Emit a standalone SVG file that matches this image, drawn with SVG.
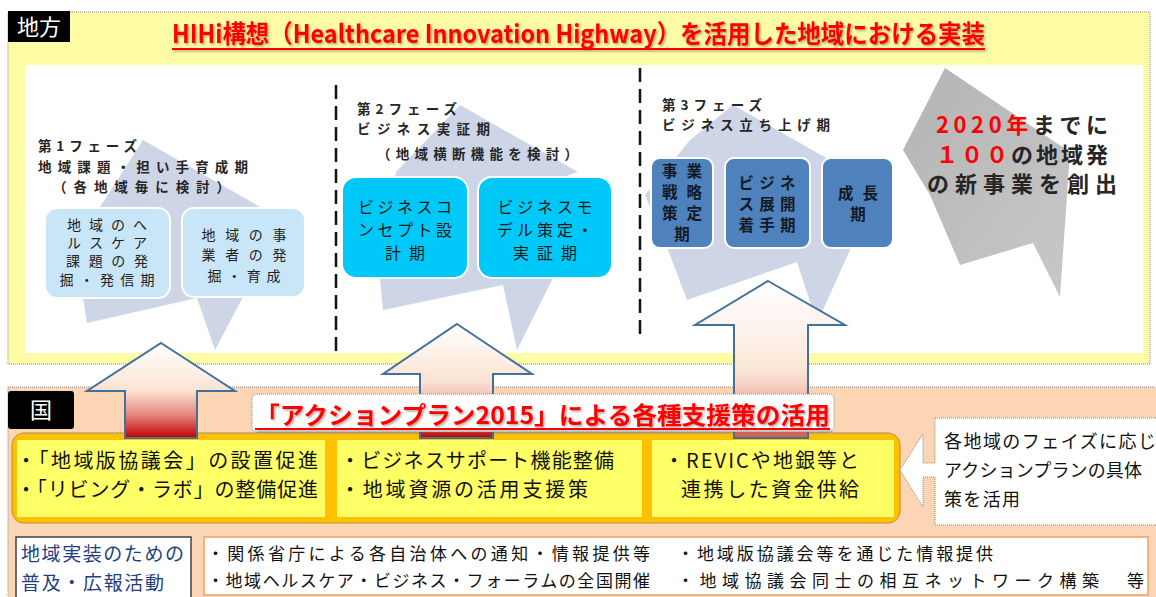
<svg xmlns="http://www.w3.org/2000/svg" width="1156" height="597" viewBox="0 0 1156 597">
<defs>
<style>
text{font-family:"Noto Sans CJK JP","Noto Sans",sans-serif}
.ph{font-size:13.5px;font-weight:700;fill:#262626}
.pale{fill:#CDD5E7}
.b1{fill:#C9E6F8;stroke:#fff;stroke-width:2}
.b2{fill:#00C8F8;stroke:#fff;stroke-width:2}
.b3{fill:#4F81BD;stroke:#fff;stroke-width:2}
.t1{font-size:14px;fill:#222;text-anchor:middle}
.t2{font-size:16px;fill:#1a1a1a;text-anchor:middle}
.t3{font-size:15.5px;font-weight:700;fill:#111a26;text-anchor:middle}
.big{font-size:22px;font-weight:700;fill:#262626;text-anchor:middle}
.red{fill:#FF0000}
.dash{stroke:#111;stroke-width:2.5;stroke-dasharray:14 7;fill:none}
.dot{fill:none;stroke:#8a8a8a;stroke-width:1;stroke-dasharray:1 1}
.blk{fill:#000}
.lbl{font-size:22px;fill:#fff;text-anchor:middle}
.pan{fill:#FFFF66}
.pt{font-size:20px;fill:#111}
.arrow{stroke:#41719C;stroke-width:2}
.ct{font-size:18px;fill:#111}
.bt{font-size:17px;fill:#111}
</style>
<linearGradient id="ga1" x1="0" y1="0" x2="0" y2="1">
<stop offset="0" stop-color="#FFFFFF"/><stop offset="0.5" stop-color="#FBE3D3"/><stop offset="0.75" stop-color="#E48A7E"/><stop offset="1" stop-color="#C00000"/>
</linearGradient>
<linearGradient id="ga2" x1="0" y1="0" x2="0" y2="1">
<stop offset="0" stop-color="#FFFFFF"/><stop offset="0.5" stop-color="#FBE3D3"/><stop offset="0.8" stop-color="#E8988C"/><stop offset="1" stop-color="#C00000"/>
</linearGradient>
<linearGradient id="ga3" x1="0" y1="0" x2="0" y2="1">
<stop offset="0" stop-color="#FFFFFF"/><stop offset="0.55" stop-color="#FBE6D8"/><stop offset="0.85" stop-color="#EFA395"/><stop offset="1" stop-color="#D2514A"/>
</linearGradient>
<linearGradient id="gg" x1="0" y1="0" x2="1" y2="1">
<stop offset="0" stop-color="#B4B4B4"/><stop offset="1" stop-color="#C8C8C8"/>
</linearGradient>
<filter id="sh" x="-5%" y="-20%" width="110%" height="150%">
<feDropShadow dx="1.5" dy="1.5" stdDeviation="1" flood-color="#000" flood-opacity="0.35"/>
</filter>
</defs>

<g id="region-local">
<rect x="8" y="12" width="1142" height="352" fill="#FFFCA6"/>
<rect x="8" y="12" width="1142" height="352" class="dot"/>
<rect x="25" y="65" width="1118" height="288" fill="#FFFFFF"/>
</g>

<g id="label-chiho">
<rect x="8" y="11" width="62" height="31" class="blk"/>
<text x="39" y="35" class="lbl">地方</text>
</g>

<g id="title" filter="url(#sh)">
<text x="172" y="43" font-size="25" font-weight="700" fill="#FF0000" textLength="813" lengthAdjust="spacingAndGlyphs">HIHi構想（Healthcare Innovation Highway）を活用した地域における実装</text>
<line x1="172" y1="49" x2="985" y2="49" stroke="#FF0000" stroke-width="2"/>
</g>

<g id="phase-backgrounds">
<polygon class="pale" points="143,140 262,208 240,215 243,297 215,350 197,298 87,323 80,280 100,207"/>
<polygon class="pale" points="460,105 578,172 560,178 553,278 517,350 503,285 383,310 378,260 396,172"/>
<polygon class="pale" points="733,105 830,160 850,250 817,323 797,262 687,300 668,250 645,195 690,140"/>
<polygon fill="url(#gg)" points="945,68 1070,152 1060,297 1033,243 960,265 930,195 903,150"/>
</g>

<g id="separators">
<line x1="336" y1="85" x2="336" y2="352" class="dash"/>
<line x1="640" y1="68" x2="640" y2="338" class="dash"/>
</g>

<g id="phase1">
<text class="ph" x="38" y="151" textLength="99">第1フェーズ</text>
<text class="ph" x="38" y="172" textLength="210">地域課題・担い手育成期</text>
<text class="ph" x="53" y="192" textLength="177">（各地域毎に検討）</text>
</g>
<g id="phase1-box1">
<rect class="b1" x="45" y="208" width="125" height="90" rx="12"/>
<text class="t1" x="107" y="230" textLength="80">地域のへ</text>
<text class="t1" x="107" y="248" textLength="80">ルスケア</text>
<text class="t1" x="107" y="266" textLength="82">課題の発</text>
<text class="t1" x="107" y="285" textLength="95">掘・発信期</text>
</g>
<g id="phase1-box2">
<rect class="b1" x="182" y="208" width="123" height="89" rx="12"/>
<text class="t1" x="244" y="240" textLength="85">地域の事</text>
<text class="t1" x="244" y="260" textLength="85">業者の発</text>
<text class="t1" x="244" y="281" textLength="73">掘・育成</text>
</g>

<g id="phase2">
<text class="ph" x="357" y="114" textLength="100">第2フェーズ</text>
<text class="ph" x="357" y="134" textLength="133">ビジネス実証期</text>
<text class="ph" x="377" y="159" textLength="201">（地域横断機能を検討）</text>
</g>
<g id="phase2-box1">
<rect class="b2" x="342" y="177" width="126" height="101" rx="14"/>
<text class="t2" x="405" y="213" textLength="94">ビジネスコ</text>
<text class="t2" x="405" y="236" textLength="94">ンセプト設</text>
<text class="t2" x="405" y="259" textLength="40">計期</text>
</g>
<g id="phase2-box2">
<rect class="b2" x="478" y="177" width="134" height="101" rx="14"/>
<text class="t2" x="545" y="213" textLength="95">ビジネスモ</text>
<text class="t2" x="545" y="236" textLength="96">デル策定・</text>
<text class="t2" x="545" y="259" textLength="64">実証期</text>
</g>

<g id="phase3">
<text class="ph" x="662" y="110" textLength="100">第3フェーズ</text>
<text class="ph" x="662" y="130" textLength="168">ビジネス立ち上げ期</text>
</g>
<g id="phase3-box1">
<rect class="b3" x="651" y="158" width="62" height="90" rx="9"/>
<text class="t3" x="682" y="177" textLength="40">事業</text>
<text class="t3" x="682" y="198" textLength="40">戦略</text>
<text class="t3" x="682" y="219" textLength="40">策定</text>
<text class="t3" x="682" y="240">期</text>
</g>
<g id="phase3-box2">
<rect class="b3" x="725" y="158" width="85" height="90" rx="9"/>
<text class="t3" x="767" y="189" textLength="57">ビジネ</text>
<text class="t3" x="767" y="210" textLength="57">ス展開</text>
<text class="t3" x="767" y="231" textLength="57">着手期</text>
</g>
<g id="phase3-box3">
<rect class="b3" x="822" y="158" width="71" height="90" rx="9"/>
<text class="t3" x="858" y="199" textLength="40">成長</text>
<text class="t3" x="858" y="220">期</text>
</g>

<g id="goal">
<text class="big" x="1022" y="133" textLength="172"><tspan class="red">2020年</tspan>までに</text>
<text class="big" x="1022" y="163" textLength="172"><tspan class="red">１００</tspan>の地域発</text>
<text class="big" x="1022" y="192" textLength="190">の新事業を創出</text>
</g>

<g id="region-national">
<rect x="8" y="387" width="1148" height="210" fill="#FCD5B5"/>
<line x1="8" y1="387" x2="1156" y2="387" class="dot"/>
<line x1="8" y1="387" x2="8" y2="597" class="dot"/>
</g>

<g id="label-kuni">
<rect x="8" y="391" width="66" height="38" rx="3" class="blk"/>
<text x="41" y="418" class="lbl">国</text>
</g>

<g id="support-measures">
<rect x="12" y="433" width="888" height="90" rx="12" fill="#FFC000" stroke="#E3A800" stroke-width="1"/>
<rect x="12" y="433" width="888" height="90" rx="12" class="dot"/>
</g>
<g id="measure1">
<rect class="pan" x="17" y="440" width="308" height="77"/>
<text class="pt" x="16" y="468" textLength="302">・「地域版協議会」の設置促進</text>
<text class="pt" x="16" y="497" textLength="302">・「リビング・ラボ」の整備促進</text>
</g>
<g id="measure2">
<rect class="pan" x="337" y="440" width="305" height="77"/>
<text class="pt" x="340" y="468" textLength="274">・ビジネスサポート機能整備</text>
<text class="pt" x="340" y="497" textLength="248">・地域資源の活用支援策</text>
</g>
<g id="measure3">
<rect class="pan" x="652" y="440" width="242" height="77"/>
<text class="pt" x="664" y="468" textLength="195">・REVICや地銀等と</text>
<text class="pt" x="681" y="497" textLength="178">連携した資金供給</text>
</g>

<g id="connectors">
<polygon class="arrow" fill="url(#ga1)" points="161,343 235,391 197,391 197,438 125,438 125,391 87,391"/>
<polygon class="arrow" fill="url(#ga2)" points="457,324 532,374 493,374 493,438 420,438 420,374 383,374"/>
<polygon class="arrow" fill="url(#ga3)" fill-opacity="0.92" points="768,281 845,325 808,325 808,438 734,438 734,325 695,325"/>
</g>

<g id="action-plan-label">
<rect x="252" y="394" width="582" height="38" rx="5" fill="#FFFFFF"/>
<rect x="252" y="394" width="582" height="38" rx="5" class="dot"/>
<g filter="url(#sh)">
<text x="255" y="424" font-size="24" font-weight="700" fill="#FF0000" textLength="575" lengthAdjust="spacingAndGlyphs">「アクションプラン2015」による各種支援策の活用</text>
<line x1="255" y1="429" x2="830" y2="429" stroke="#FF0000" stroke-width="2"/>
</g>
</g>

<g id="callout">
<path d="M935,418 H1160 V525 H935 V477 H923 V507 L900,470 L923,434 V463 H935 Z" fill="#FFFFFF"/>
<path d="M935,418 H1160 V525 H935 V477 H923 V507 L900,470 L923,434 V463 H935 Z" class="dot"/>
<text class="ct" x="944" y="448" textLength="212">各地域のフェイズに応じ</text>
<text class="ct" x="944" y="477" textLength="198">アクションプランの具体</text>
<text class="ct" x="944" y="506" textLength="76">策を活用</text>
</g>

<g id="promotion-label">
<rect x="16" y="537" width="175" height="62" fill="#FFFFFF" stroke="#404040" stroke-width="1.5"/>
<text x="21" y="561" font-size="19" fill="#1F3F7F" textLength="163">地域実装のための</text>
<text x="21" y="590" font-size="19" fill="#1F3F7F" textLength="143">普及・広報活動</text>
</g>

<g id="promotion-items">
<rect x="204" y="537" width="944" height="58" fill="#FFFFFF" stroke="#F0A060" stroke-width="1.5"/>
<text class="bt" x="207" y="560" textLength="443">・関係省庁による各自治体への通知・情報提供等</text>
<text class="bt" x="677" y="560" textLength="316">・地域版協議会等を通じた情報提供</text>
<text class="bt" x="207" y="587" textLength="443">・地域ヘルスケア・ビジネス・フォーラムの全国開催</text>
<text class="bt" x="677" y="587" textLength="467">・地域協議会同士の相互ネットワーク構築　等</text>
</g>
</svg>
